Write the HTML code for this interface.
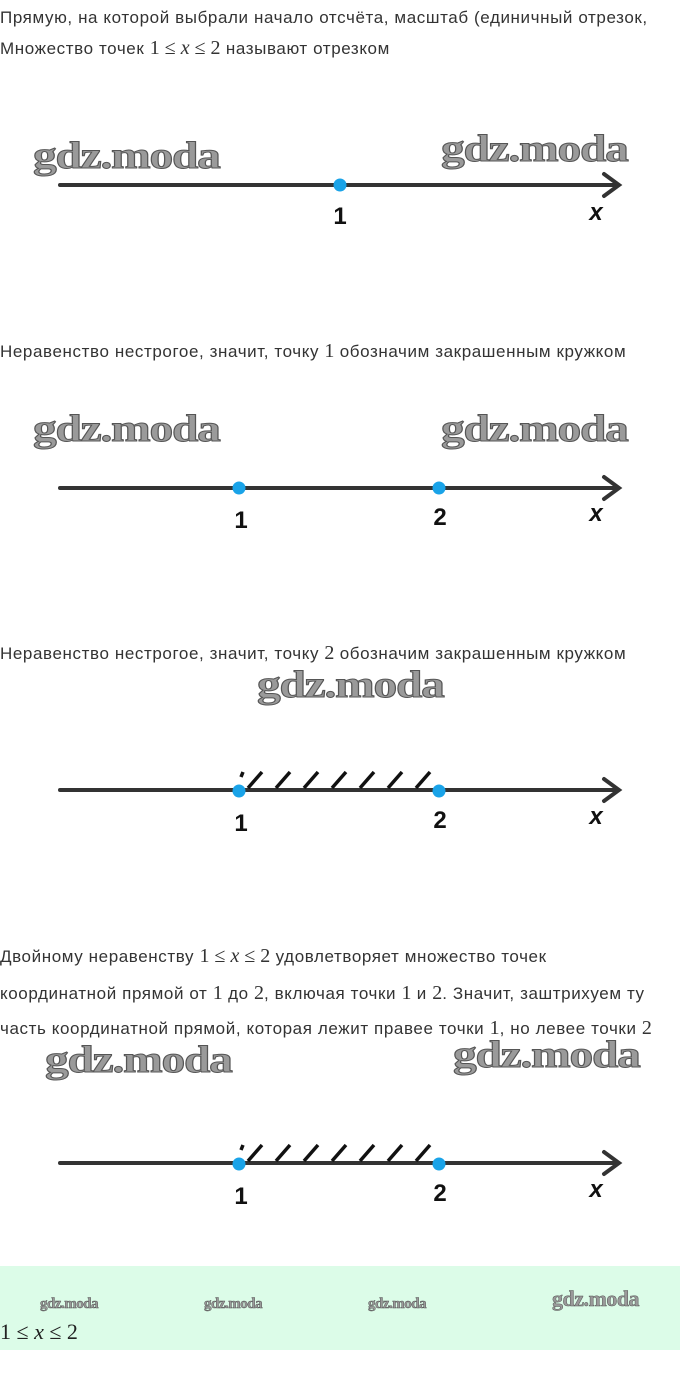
<!DOCTYPE html>
<html><head><meta charset="utf-8"><style>
body{margin:0;width:680px;height:1386px;background:#fff;position:relative;overflow:hidden;font-family:"Liberation Sans",sans-serif;color:#333}
.t{position:absolute;left:0;font-size:17px;letter-spacing:0.6px;white-space:nowrap;line-height:20px}
.m{font-family:"Liberation Serif",serif;font-size:20px;letter-spacing:0}
.wm{position:absolute;font-family:"Liberation Serif",serif;font-weight:bold;color:#9a9a9a;-webkit-text-stroke:1px #555;letter-spacing:-1px;white-space:nowrap;transform-origin:0 0}
.big{font-size:38px;line-height:40px;transform:scaleX(1.25)}
.sm{font-size:15px;line-height:18px;-webkit-text-stroke:0.5px #555;letter-spacing:-0.5px}
svg{position:absolute;left:0;top:0}
</style></head><body>
<div class="t" style="top:8px">Прямую, на которой выбрали начало отсчёта, масштаб (единичный отрезок,</div>
<div class="t" style="top:38px">Множество точек <span class="m">1 ≤ <i>x</i> ≤ 2</span> называют отрезком</div>
<div class="t" style="top:341px">Неравенство нестрогое, значит, точку <span class="m">1</span> обозначим закрашенным кружком</div>
<div class="t" style="top:643px">Неравенство нестрогое, значит, точку <span class="m">2</span> обозначим закрашенным кружком</div>
<div class="t" style="top:946px">Двойному неравенству <span class="m">1 ≤ <i>x</i> ≤ 2</span> удовлетворяет множество точек</div>
<div class="t" style="top:983px">координатной прямой от <span class="m">1</span> до <span class="m">2</span>, включая точки <span class="m">1</span> и <span class="m">2</span>. Значит, заштрихуем ту</div>
<div class="t" style="top:1018px">часть координатной прямой, которая лежит правее точки <span class="m">1</span>, но левее точки <span class="m">2</span></div>

<div class="wm big" style="left:33px;top:136px">gdz.moda</div>
<div class="wm big" style="left:441px;top:129px">gdz.moda</div>
<div class="wm big" style="left:33px;top:409px">gdz.moda</div>
<div class="wm big" style="left:441px;top:409px">gdz.moda</div>
<div class="wm big" style="left:257px;top:665px">gdz.moda</div>
<div class="wm big" style="left:45px;top:1040px">gdz.moda</div>
<div class="wm big" style="left:453px;top:1035px">gdz.moda</div>

<div style="position:absolute;left:0;top:1266px;width:680px;height:84px;background:#dcfce8"></div>
<div class="wm sm" style="left:40px;top:1295px">gdz.moda</div>
<div class="wm sm" style="left:204px;top:1295px">gdz.moda</div>
<div class="wm sm" style="left:368px;top:1295px">gdz.moda</div>
<div class="wm sm" style="left:552px;top:1290px;font-size:22px">gdz.moda</div>
<div class="t m" style="top:1322px;font-size:22px;color:#222">1 ≤ <i>x</i> ≤ 2</div>

<svg width="680" height="1386" font-family="Liberation Sans, sans-serif" font-size="24" font-weight="bold" fill="#111">
<g stroke="#333" stroke-width="4" fill="none" stroke-linecap="round">
<line x1="60" y1="185" x2="618" y2="185"/><polyline points="604,174 619,185 604,196"/>
<line x1="60" y1="488" x2="618" y2="488"/><polyline points="604,477 619,488 604,499"/>
<line x1="60" y1="790" x2="618" y2="790"/><polyline points="604,779 619,790 604,801"/>
<line x1="60" y1="1163" x2="618" y2="1163"/><polyline points="604,1152 619,1163 604,1174"/>
</g>
<g stroke="#111" stroke-width="3.5">
<path d="M248,788 L262,772 M276,788 L290,772 M304,788 L318,772 M332,788 L346,772 M360,788 L374,772 M388,788 L402,772 M416,788 L430,772 M241,777 L243,772"/>
<path d="M248,1161 L262,1145 M276,1161 L290,1145 M304,1161 L318,1145 M332,1161 L346,1145 M360,1161 L374,1145 M388,1161 L402,1145 M416,1161 L430,1145 M241,1150 L243,1145"/>
</g>
<g fill="#1aa3e8">
<circle cx="340" cy="185" r="6.5"/>
<circle cx="239" cy="488" r="6.5"/><circle cx="439" cy="488" r="6.5"/>
<circle cx="239" cy="791" r="6.5"/><circle cx="439" cy="791" r="6.5"/>
<circle cx="239" cy="1164" r="6.5"/><circle cx="439" cy="1164" r="6.5"/>
</g>
<g text-anchor="middle">
<text x="340" y="224">1</text><text x="596" y="220" font-style="italic">x</text>
<text x="241" y="528">1</text><text x="440" y="525">2</text><text x="596" y="521" font-style="italic">x</text>
<text x="241" y="831">1</text><text x="440" y="828">2</text><text x="596" y="824" font-style="italic">x</text>
<text x="241" y="1204">1</text><text x="440" y="1201">2</text><text x="596" y="1197" font-style="italic">x</text>
</g>
</svg>
</body></html>
